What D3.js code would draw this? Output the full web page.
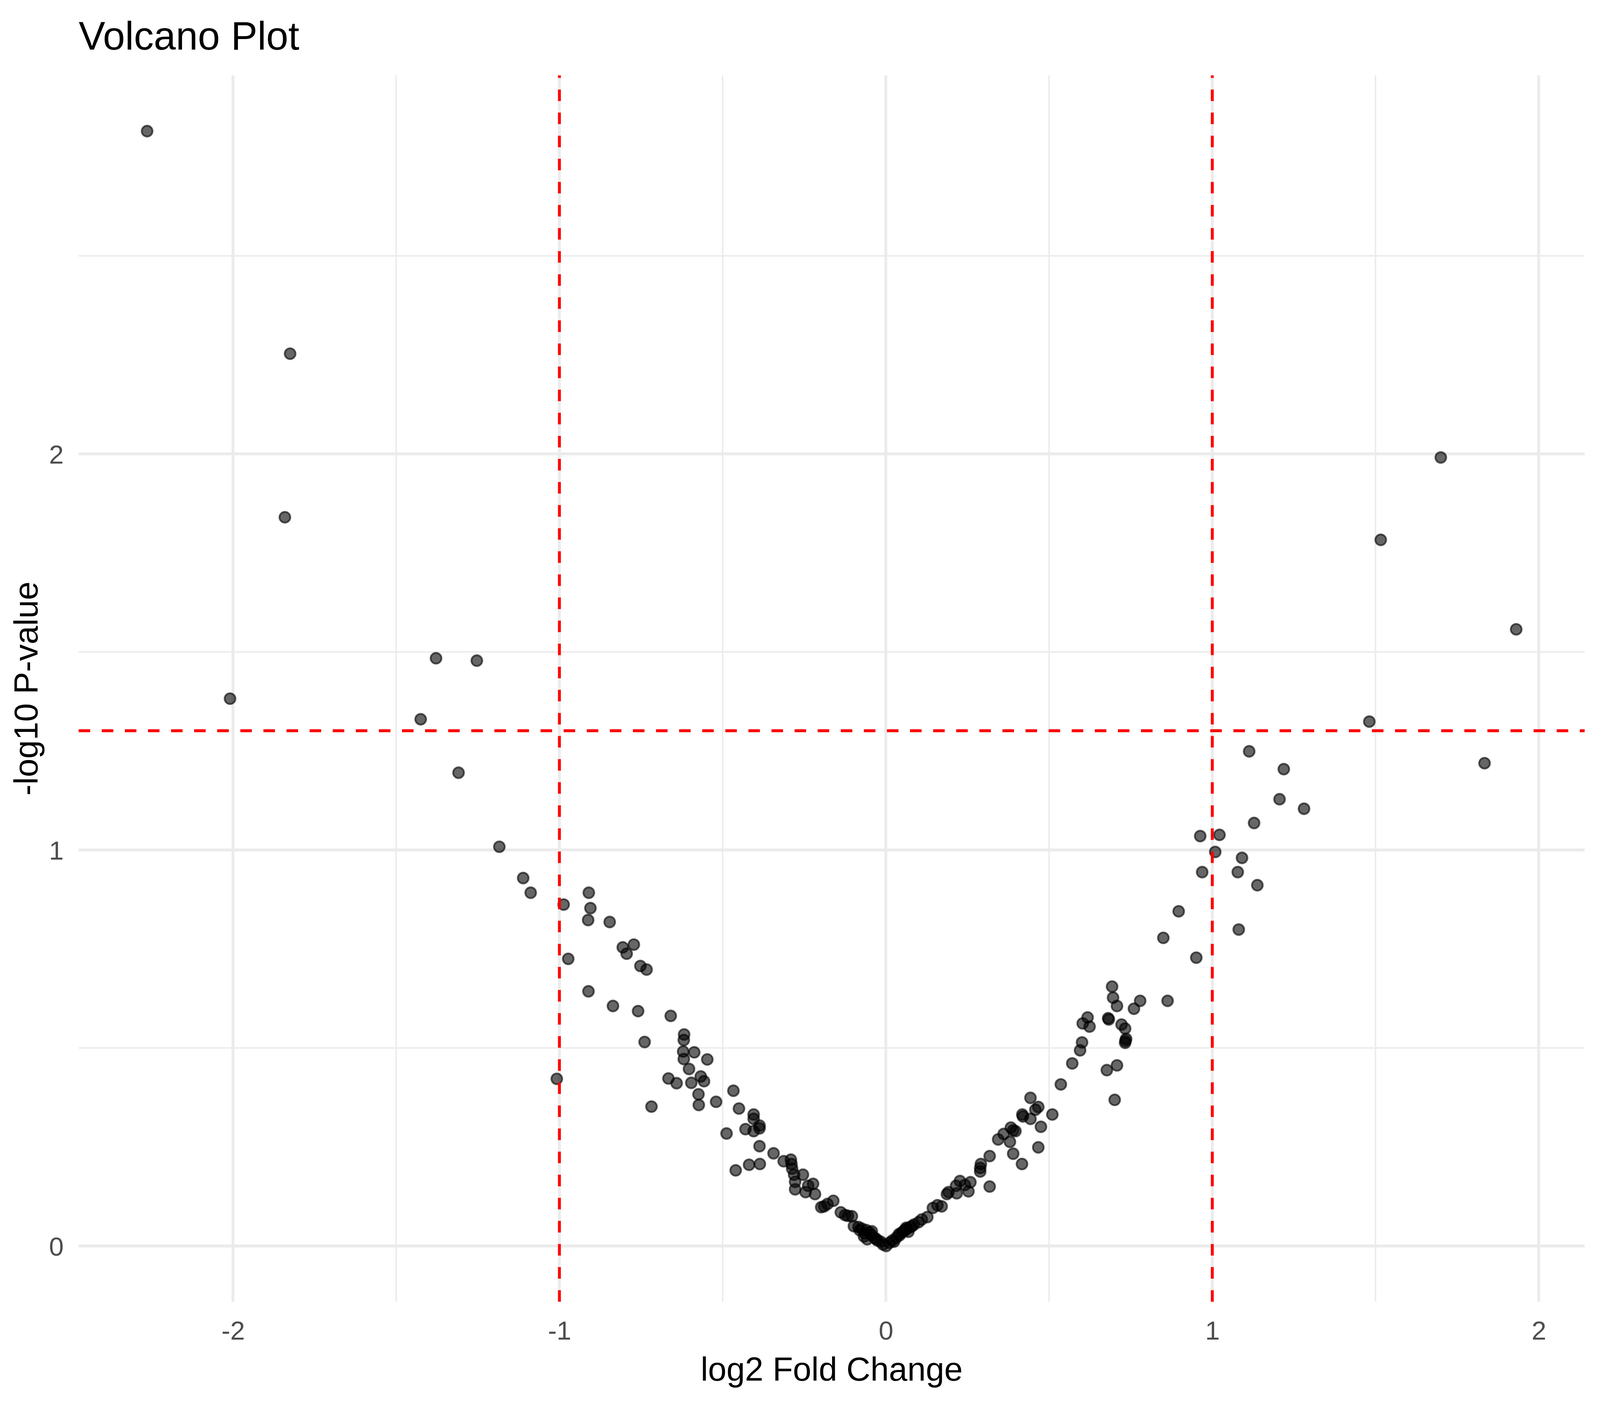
<!DOCTYPE html>
<html>
<head>
<meta charset="utf-8">
<script src="https://cdn.jsdelivr.net/npm/d3@7"></script>
<style>
  html, body { margin: 0; padding: 0; width: 100%; height: 100%; overflow: hidden; background: #fff; }
  svg { display: block; }
  text { font-family: "Liberation Sans", Arial, sans-serif; }
</style>
</head>
<body>
<script>
// values
const log2FC = [
  -2.263, -1.825, -1.841, -2.009, -1.378, -1.253, -1.425, -1.309, -1.184,
  -1.111, -1.088, -0.987, -0.910, -0.905, -0.912, -0.846, -0.806, -0.772, -0.794,
  -0.752, -0.733, -0.973, -0.911, -0.836, -0.759, -0.659, -0.618, -0.619, -0.739,
  -0.621, -0.587, -0.619, -0.547, -0.603, -0.567, -0.557, -0.666, -0.641, -0.596,
  -1.008, -0.574, -0.573, -0.520, -0.718, -0.467, -0.450, -0.488, -0.430,
  -0.405, -0.405, -0.387, -0.405, -0.387, -0.387, -0.344, -0.460, -0.419, -0.386,
  -0.313, -0.291, -0.289, -0.287, -0.281, -0.254, -0.278, -0.278, -0.246, -0.238,
  -0.223, -0.217,
  -0.198, -0.189, -0.179, -0.161, -0.138, -0.125, -0.116, -0.104, -0.098, -0.084,
  -0.074, -0.067, -0.060, -0.050, -0.043, -0.057, -0.036, -0.026, -0.016, -0.009,
  0.001, 0.011, 0.025, 0.032, 0.042, 0.049, 0.059, 0.066, 0.069, 0.086,
  0.100, 0.110, 0.127, 0.144, 0.158, 0.171,
  -0.080, -0.065, -0.045, 0.040, 0.055, 0.075, 0.062, 0.020, -0.030, 0.080,
  0.187, 0.192, 0.217, 0.215, 0.227, 0.242, 0.259, 0.253, 0.291, 0.289,
  0.289, 0.318, 0.318, 0.344, 0.361, 0.380, 0.383, 0.390, 0.397, 0.390,
  0.417, 0.418, 0.420, 0.443, 0.443, 0.458, 0.467, 0.475, 0.467,
  0.510, 0.536, 0.571,
  0.850, 0.951, 0.693, 0.696, 0.708, 0.779, 0.760, 0.863, 0.618, 0.603,
  0.624, 0.681, 0.683, 0.722, 0.733, 0.736, 0.734, 0.733, 0.601, 0.595,
  0.708, 0.677, 0.701,
  1.700, 1.516, 1.931, 1.481, 1.834, 1.113, 1.219, 1.206, 1.128, 1.281,
  0.963, 1.022, 1.009, 1.091, 1.078, 0.969, 1.138, 0.897, 1.081
];
const negLog10P = [
  2.815, 2.253, 1.840, 1.382, 1.484, 1.478, 1.330, 1.195, 1.008,
  0.929, 0.892, 0.862, 0.892, 0.853, 0.823, 0.818, 0.754, 0.761, 0.738,
  0.707, 0.698, 0.725, 0.643, 0.606, 0.593, 0.581, 0.534, 0.520, 0.515,
  0.491, 0.489, 0.472, 0.471, 0.447, 0.428, 0.416, 0.423, 0.411, 0.412,
  0.422, 0.383, 0.356, 0.364, 0.352, 0.392, 0.347, 0.284, 0.295,
  0.332, 0.321, 0.304, 0.290, 0.297, 0.252, 0.234, 0.191, 0.205, 0.207,
  0.214, 0.218, 0.207, 0.195, 0.180, 0.180, 0.162, 0.143, 0.136, 0.152,
  0.157, 0.131,
  0.098, 0.100, 0.106, 0.114, 0.085, 0.078, 0.076, 0.075, 0.050, 0.048,
  0.044, 0.024, 0.040, 0.034, 0.037, 0.017, 0.021, 0.014, 0.011, 0.004,
  0.000, 0.008, 0.011, 0.021, 0.027, 0.034, 0.040, 0.044, 0.036, 0.054,
  0.060, 0.067, 0.073, 0.096, 0.103, 0.100,
  0.040, 0.032, 0.028, 0.030, 0.038, 0.048, 0.046, 0.014, 0.018, 0.050,
  0.131, 0.136, 0.133, 0.152, 0.164, 0.154, 0.161, 0.138, 0.207, 0.197,
  0.188, 0.227, 0.150, 0.269, 0.283, 0.263, 0.299, 0.292, 0.290, 0.233,
  0.207, 0.332, 0.327, 0.321, 0.374, 0.344, 0.351, 0.301, 0.249,
  0.332, 0.408, 0.461,
  0.778, 0.728, 0.655, 0.627, 0.606, 0.619, 0.599, 0.619, 0.577, 0.562,
  0.554, 0.575, 0.572, 0.559, 0.549, 0.523, 0.518, 0.513, 0.514, 0.494,
  0.456, 0.444, 0.369,
  1.991, 1.783, 1.557, 1.324, 1.219, 1.249, 1.204, 1.128, 1.068, 1.104,
  1.035, 1.038, 0.995, 0.980, 0.944, 0.944, 0.911, 0.845, 0.799
];
const xTicks = [-2, -1, 0, 1, 2];
const yTicks = [0, 1, 2];
const xMinor = [-1.5, -0.5, 0.5, 1.5];
const yMinor = [0.5, 1.5, 2.5];
const fcCutoffs = [-1, 1];
const pCutoff = -Math.log10(0.05);

// layout is measured on a 4800x3600 canvas and stretched to the real window
const w = window.innerWidth || 4800;
const h = window.innerHeight || 3600;
const sx = w / 4800, sy = h / 3600, s = Math.sqrt(sx * sy);
const panelLeft = 236 * sx, panelRight = 4754 * sx;
const panelTop = 193 * sy, panelBottom = 3333 * sy;
const font = '"Liberation Sans", Arial, sans-serif';

const points = log2FC.map((d, i) => ({ fc: d, p: negLog10P[i] }));

const svg = d3.select('body')
  .append('svg')
  .attr('width', w)
  .attr('height', h);

svg.append('rect').attr('width', w).attr('height', h).attr('fill', '#fff');

// ggplot style 5% expansion
const xExt = d3.extent(log2FC);
const yExt = d3.extent(negLog10P);
const xPad = (xExt[1] - xExt[0]) * 0.05;
const yPad = (yExt[1] - yExt[0]) * 0.05;

const xScale = d3.scaleLinear()
  .domain([xExt[0] - xPad, xExt[1] + xPad])
  .range([panelLeft, panelRight]);
const yScale = d3.scaleLinear()
  .domain([yExt[0] - yPad, yExt[1] + yPad])
  .range([panelBottom, panelTop]);

// grid
const grid = svg.append('g').attr('stroke', '#EBEBEB');
grid.selectAll('.xminor').data(xMinor).enter().append('line')
  .attr('x1', d => xScale(d)).attr('x2', d => xScale(d))
  .attr('y1', panelTop).attr('y2', panelBottom).attr('stroke-width', 4 * s);
grid.selectAll('.yminor').data(yMinor).enter().append('line')
  .attr('x1', panelLeft).attr('x2', panelRight)
  .attr('y1', d => yScale(d)).attr('y2', d => yScale(d)).attr('stroke-width', 4 * s);
grid.selectAll('.xmajor').data(xTicks).enter().append('line')
  .attr('x1', d => xScale(d)).attr('x2', d => xScale(d))
  .attr('y1', panelTop).attr('y2', panelBottom).attr('stroke-width', 8 * s);
grid.selectAll('.ymajor').data(yTicks).enter().append('line')
  .attr('x1', panelLeft).attr('x2', panelRight)
  .attr('y1', d => yScale(d)).attr('y2', d => yScale(d)).attr('stroke-width', 8 * s);

// axes (labels only, as in theme_minimal); plain hyphen minus like R
const xAxis = d3.axisBottom(xScale).tickValues(xTicks).tickSize(0).tickPadding(0).tickFormat(d => String(d));
const yAxis = d3.axisLeft(yScale).tickValues(yTicks).tickSize(0).tickPadding(0).tickFormat(d => String(d));

const gx = svg.append('g')
  .attr('transform', 'translate(0,' + panelBottom + ')')
  .call(xAxis);
gx.select('.domain').remove();
gx.selectAll('text')
  .attr('y', 97 * sy).attr('dy', null)
  .attr('font-size', 73 * s).attr('fill', '#4D4D4D')
  .style('font-family', font);

const gy = svg.append('g')
  .attr('transform', 'translate(' + panelLeft + ',0)')
  .call(yAxis);
gy.select('.domain').remove();
gy.selectAll('text')
  .attr('x', -45 * sx).attr('dy', '0.36em')
  .attr('font-size', 73 * s).attr('fill', '#4D4D4D')
  .style('font-family', font);

// points
svg.append('g')
  .selectAll('circle')
  .data(points)
  .enter()
  .append('circle')
  .attr('cx', d => xScale(d.fc))
  .attr('cy', d => yScale(d.p))
  .attr('r', 15 * s)
  .attr('fill', '#000')
  .attr('fill-opacity', 0.6)
  .attr('stroke', '#000')
  .attr('stroke-opacity', 0.6)
  .attr('stroke-width', 5 * s);

// threshold lines
const dash = (32 * s) + ',' + (32 * s);
svg.append('line')
  .attr('x1', panelLeft).attr('x2', panelRight)
  .attr('y1', yScale(pCutoff)).attr('y2', yScale(pCutoff))
  .attr('stroke', '#FF0000').attr('stroke-width', 8 * s)
  .attr('stroke-dasharray', dash);
svg.selectAll('.vcut').data(fcCutoffs).enter().append('line')
  .attr('x1', d => xScale(d)).attr('x2', d => xScale(d))
  .attr('y1', panelBottom).attr('y2', panelTop)
  .attr('stroke', '#FF0000').attr('stroke-width', 8 * s)
  .attr('stroke-dasharray', dash);

// titles
svg.append('text')
  .attr('x', panelLeft).attr('y', 127 * sy)
  .attr('font-size', 110 * s).attr('fill', '#000')
  .text('Volcano Plot');

svg.append('text')
  .attr('x', (panelLeft + panelRight) / 2).attr('y', 3535 * sy)
  .attr('text-anchor', 'middle')
  .attr('font-size', 92 * s).attr('fill', '#000')
  .text('log2 Fold Change');

svg.append('text')
  .attr('transform', 'translate(' + (113 * sx) + ',' + (panelTop + panelBottom) / 2 + ') rotate(-90)')
  .attr('text-anchor', 'middle')
  .attr('font-size', 92 * s).attr('fill', '#000')
  .text('-log10 P-value');
</script>
</body>
</html>
